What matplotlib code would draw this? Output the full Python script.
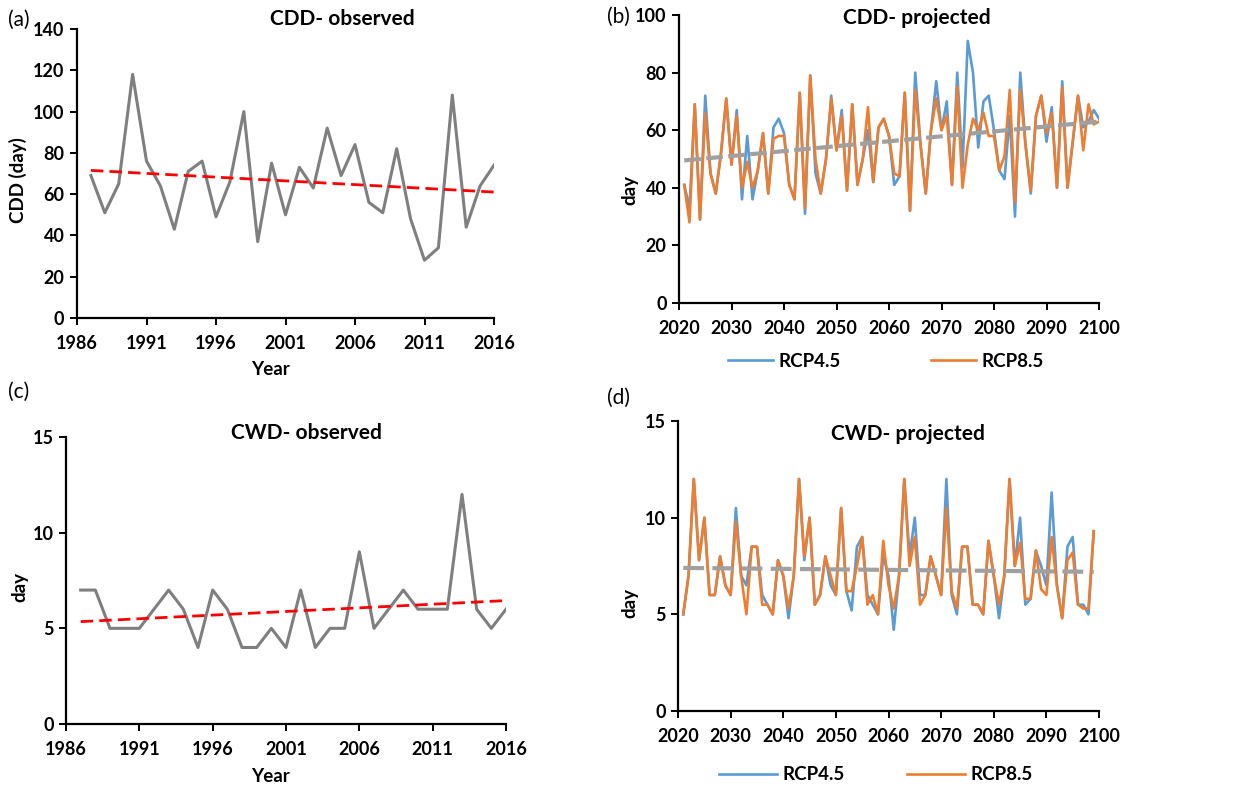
import matplotlib
matplotlib.use("Agg")
import matplotlib.pyplot as plt

plt.rcParams['font.family'] = ['Lato', 'DejaVu Sans']
plt.rcParams['font.weight'] = 'bold'

# ---------------- data ----------------
obs_years = list(range(1987, 2017))
cdd_obs = [69, 51, 65, 118, 76, 64, 43, 71, 76, 49,
           66, 100, 37, 75, 50, 73, 63, 92, 69, 84,
           56, 51, 82, 48, 28, 34, 108, 44, 64, 74]
cdd_obs_trend = [71.5, 61.0]

cwd_obs = [7, 7, 5, 5, 5, 6, 7, 6, 4, 7,
           6, 4, 4, 5, 4, 7, 4, 5, 5, 9,
           5, 6, 7, 6, 6, 6, 12, 6, 5, 6]
cwd_obs_trend = [5.35, 6.45]

proj_years_cdd = list(range(2021, 2101))
cdd_rcp45 = [41, 33, 69, 29, 72, 45, 38, 52, 71, 48,
             67, 36, 58, 36, 46, 59, 38, 61, 64, 59,
             41, 36, 73, 31, 79, 45, 38, 50, 72, 53,
             67, 39, 69, 41, 50, 60, 42, 61, 64, 58,
             41, 44, 73, 32, 80, 55, 38, 60, 77, 60,
             70, 41, 80, 47, 91, 80, 54, 70, 72, 60,
             46, 43, 65, 30, 80, 55, 38, 65, 72, 56,
             68, 40, 77, 40, 56, 72, 61, 63, 67, 64]
cdd_rcp85 = [41, 28, 69, 29, 66, 45, 38, 52, 71, 48,
             65, 40, 49, 40, 46, 59, 38, 57, 58, 58,
             41, 36, 73, 33, 79, 50, 38, 50, 71, 53,
             65, 39, 69, 41, 50, 68, 42, 61, 64, 58,
             45, 44, 73, 32, 74, 55, 38, 60, 71, 60,
             65, 41, 75, 40, 55, 64, 60, 66, 58, 58,
             46, 51, 74, 35, 74, 55, 39, 65, 72, 59,
             66, 40, 75, 40, 56, 72, 53, 69, 62, 63]
cdd_proj_trend = [49.5, 63.0]

proj_years_cwd = list(range(2021, 2100))
cwd_rcp45 = [5, 7, 12, 7.8, 10, 6, 6, 8, 6.5, 6,
             10.5, 7, 6.5, 8.5, 8.5, 6, 5.5, 5, 7.8, 7,
             4.8, 7, 12, 7.8, 10, 5.5, 6, 8, 6.5, 6,
             10.5, 6.2, 5.2, 8.5, 9, 6, 5.5, 5, 8, 7,
             4.2, 7, 12, 8, 10, 6, 6, 8, 7, 6,
             12, 6, 5, 8.5, 8.5, 5.5, 5.5, 5, 8.8, 7,
             4.8, 7, 12, 7.5, 10, 5.5, 5.8, 8.3, 7.5, 6.5,
             11.3, 6.5, 4.8, 8.5, 9, 5.5, 5.5, 5, 9.3]
cwd_rcp85 = [5, 7, 12, 7.8, 10, 6, 6, 8, 6.5, 6,
             9.8, 7, 5, 8.5, 8.5, 5.5, 5.5, 5, 7.8, 7,
             5.3, 7, 12, 8, 10, 5.5, 6, 8, 7, 6,
             10.5, 6.2, 6.2, 7.5, 9, 5.5, 6, 5, 8.8, 6.5,
             5.3, 7, 12, 7.5, 9, 5.5, 6, 8, 7, 6,
             10.5, 6.2, 5.3, 8.5, 8.5, 5.5, 5.5, 5, 8.8, 7,
             5.5, 7, 12, 7.5, 8.7, 5.8, 5.8, 8.3, 6.3, 6,
             9, 6.5, 4.8, 7.8, 8.2, 5.5, 5.3, 5.3, 9.3]
cwd_proj_trend = [7.4, 7.2]

obs_xticks = [1986, 1991, 1996, 2001, 2006, 2011, 2016]
proj_xticks = list(range(2020, 2101, 10))

# ---------------- styles ----------------
GRAY = '#7f7f7f'
RED = '#ff0000'
BLUE = '#5b9bd5'
ORANGE = '#ed7d31'
TREND_GRAY = '#a0a0a0'
TICK_FS = 13
LABEL_FS = 13.5
TITLE_FS = 15
LETTER_FS = 15

W, H = 1236, 786
fig = plt.figure(figsize=(W / 100, H / 100), dpi=100)


def add_axes(x0, x1, ytop, ybot):
    return fig.add_axes([x0 / W, 1 - ybot / H, (x1 - x0) / W, (ybot - ytop) / H])


def style(ax, xlim, xticks, ylim, yticks):
    ax.set_xlim(*xlim)
    ax.set_ylim(*ylim)
    ax.set_xticks(xticks)
    ax.set_yticks(yticks)
    for s in ('top', 'right'):
        ax.spines[s].set_visible(False)
    for s in ('left', 'bottom'):
        ax.spines[s].set_linewidth(1.6)
        ax.spines[s].set_color('black')
    ax.tick_params(axis='both', direction='out', length=5, width=1.4,
                   labelsize=TICK_FS, pad=4)
    ax.tick_params(axis='x', pad=7)
    for lab in ax.get_xticklabels() + ax.get_yticklabels():
        lab.set_fontweight('bold')


# (a) CDD observed
ax_a = add_axes(77, 494, 29, 318)
ax_a.plot(obs_years, cdd_obs, color=GRAY, lw=2.2, zorder=3)
ax_a.plot([obs_years[0], obs_years[-1]], cdd_obs_trend, color=RED, lw=2.0,
          dashes=(4.5, 2.2), zorder=4)
style(ax_a, (1986, 2016), obs_xticks, (0, 140), range(0, 141, 20))

# (b) CDD projected
ax_b = add_axes(679, 1099, 15, 303)
l45, = ax_b.plot(proj_years_cdd, cdd_rcp45, color=BLUE, lw=1.9, zorder=3, label='RCP4.5')
l85, = ax_b.plot(proj_years_cdd, cdd_rcp85, color=ORANGE, lw=1.9, zorder=4, label='RCP8.5')
ax_b.plot([proj_years_cdd[0], proj_years_cdd[-1]], cdd_proj_trend, color=TREND_GRAY,
          lw=3.0, dashes=(4, 1.3), zorder=5)
style(ax_b, (2020, 2100), proj_xticks, (0, 100), range(0, 101, 20))

# (c) CWD observed
ax_c = add_axes(66, 506, 437, 724)
ax_c.plot(obs_years, cwd_obs, color=GRAY, lw=2.2, zorder=3)
ax_c.plot([obs_years[0], obs_years[-1]], cwd_obs_trend, color=RED, lw=2.0,
          dashes=(4.5, 2.2), zorder=4)
style(ax_c, (1986, 2016), obs_xticks, (0, 15), range(0, 16, 5))

# (d) CWD projected
ax_d = add_axes(678, 1099, 421, 711)
ax_d.plot(proj_years_cwd, cwd_rcp45, color=BLUE, lw=1.9, zorder=3)
ax_d.plot(proj_years_cwd, cwd_rcp85, color=ORANGE, lw=1.9, zorder=4)
ax_d.plot([proj_years_cwd[0], proj_years_cwd[-1]], cwd_proj_trend, color=TREND_GRAY,
          lw=3.0, dashes=(5, 2), zorder=5)
style(ax_d, (2020, 2100), proj_xticks, (0, 15), range(0, 16, 5))


def ftext(x, y, s, **kw):
    fig.text(x / W, 1 - y / H, s, **kw)


# titles
ftext(342, 19, 'CDD- observed', ha='center', va='center', fontsize=TITLE_FS, fontweight='bold')
ftext(917, 18, 'CDD- projected', ha='center', va='center', fontsize=TITLE_FS, fontweight='bold')
ftext(306, 433, 'CWD- observed', ha='center', va='center', fontsize=TITLE_FS, fontweight='bold')
ftext(908, 434, 'CWD- projected', ha='center', va='center', fontsize=TITLE_FS, fontweight='bold')

# panel letters
for x, y, s in [(19, 20, '(a)'), (618, 17, '(b)'), (19, 392, '(c)'), (618, 398, '(d)')]:
    ftext(x, y, s, ha='center', va='center', fontsize=LETTER_FS, fontweight='normal')

# axis labels
ftext(18, 180, 'CDD (day)', ha='center', va='center', rotation=90, fontsize=LABEL_FS, fontweight='bold')
ftext(630, 190, 'day', ha='center', va='center', rotation=90, fontsize=LABEL_FS, fontweight='bold')
ftext(20, 587, 'day', ha='center', va='center', rotation=90, fontsize=LABEL_FS, fontweight='bold')
ftext(630, 603, 'day', ha='center', va='center', rotation=90, fontsize=LABEL_FS, fontweight='bold')
ftext(270, 370, 'Year', ha='center', va='center', fontsize=LABEL_FS, fontweight='bold')
ftext(270, 777, 'Year', ha='center', va='center', fontsize=LABEL_FS, fontweight='bold')

# legends
fig.legend(handles=[l45, l85], loc='center', ncol=2, frameon=False,
           bbox_to_anchor=(886 / W, 1 - 361 / H),
           handlelength=2.4, columnspacing=4.8, handletextpad=0.3,
           prop={'weight': 'bold', 'size': LABEL_FS})
fig.legend(handles=[l45, l85], loc='center', ncol=2, frameon=False,
           bbox_to_anchor=(876 / W, 1 - 775 / H),
           handlelength=3.1, columnspacing=3.3, handletextpad=0.3,
           prop={'weight': 'bold', 'size': LABEL_FS})

fig.savefig('out.png', dpi=100, facecolor='white')
